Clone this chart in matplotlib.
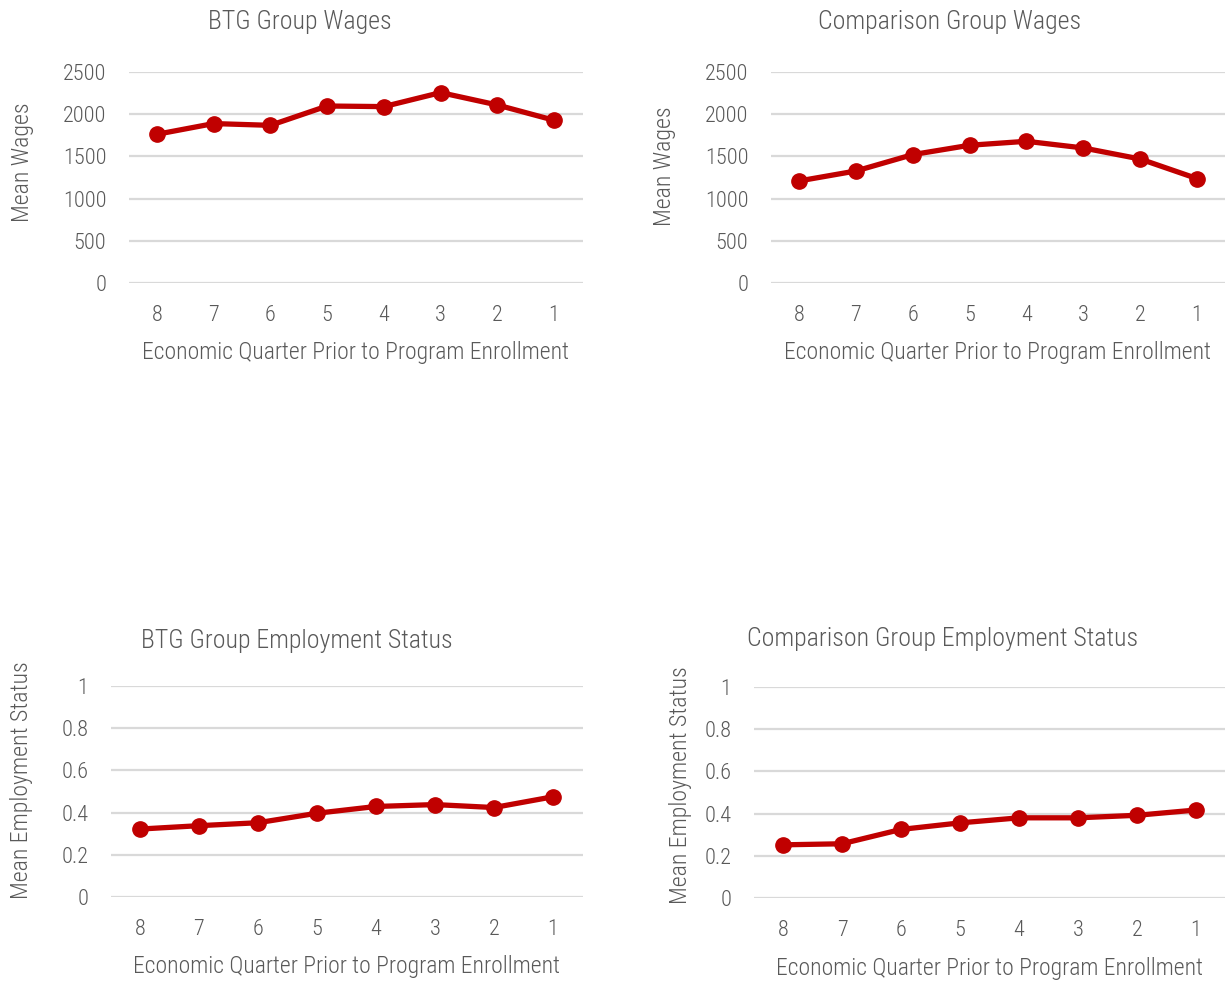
import matplotlib
matplotlib.use("Agg")
import matplotlib.pyplot as plt
from matplotlib import font_manager
from matplotlib.transforms import blended_transform_factory

# quarters before enrollment, oldest first
quarters = ["8", "7", "6", "5", "4", "3", "2", "1"]

btg_wages = [1762, 1889, 1868, 2097, 2090, 2256, 2109, 1928]
comp_wages = [1209, 1327, 1521, 1632, 1679, 1600, 1469, 1237]
btg_employ = [0.322, 0.338, 0.352, 0.397, 0.429, 0.438, 0.424, 0.475]
comp_employ = [0.252, 0.257, 0.325, 0.356, 0.380, 0.380, 0.392, 0.417]

wage_ticks = [0, 500, 1000, 1500, 2000, 2500]
employ_ticks = [0, 0.2, 0.4, 0.6, 0.8, 1]
employ_tick_labels = ["0", "0.2", "0.4", "0.6", "0.8", "1"]

# pick a narrow face if one is around
fonts = font_manager.fontManager.ttflist
names = {f.name for f in fonts}
narrow = None
for cand in ["Liberation Sans Narrow", "Roboto Condensed", "Noto Sans Condensed",
             "Open Sans Condensed", "DejaVu Sans Condensed"]:
    if cand in names:
        narrow = cand
        break
stretch = "normal"
if narrow is None:
    for fam in ["Roboto", "Noto Sans", "Open Sans", "DejaVu Sans"]:
        if any(f.name == fam and "condensed" in str(f.stretch) for f in fonts):
            narrow = fam
            stretch = "condensed"
            break
if narrow is None:
    narrow = "Roboto" if "Roboto" in names else "DejaVu Sans"
plt.rcParams["font.family"] = [narrow, "DejaVu Sans"]
plt.rcParams["font.stretch"] = stretch
plt.rcParams["font.weight"] = "light"
plt.rcParams["axes.labelweight"] = "light"

TXT = "#595959"
RED = "#C00000"
GRID = "#D9D9D9"
W, H = 1225, 984

fig = plt.figure(figsize=(W / 100, H / 100), dpi=100)


def px_axes(x0, x1, y0, y1):
    return fig.add_axes([x0 / W, 1 - y1 / H, (x1 - x0) / W, (y1 - y0) / H])


def panel(ax, vals, ticks, ticklabels, ylabel, ylab_xy, title, title_xy):
    ax.plot(range(len(vals)), vals, color=RED, lw=3.8, marker="o",
            markersize=11, zorder=3, solid_capstyle="round")
    ax.set_xlim(-0.5, len(vals) - 0.5)
    ax.set_ylim(ticks[0], ticks[-1])
    ax.set_yticks(ticks)
    ax.set_yticklabels(ticklabels)
    ax.set_xticks(range(len(quarters)))
    ax.set_xticklabels(quarters)
    ax.grid(axis="y", color=GRID, lw=1.6)
    ax.set_axisbelow(True)
    for s in ax.spines.values():
        s.set_visible(False)
    ax.tick_params(length=0, labelsize=16, labelcolor=TXT)
    ax.tick_params(axis="y", pad=16)
    ax.tick_params(axis="x", pad=16)
    ax.set_xlabel("Economic Quarter Prior to Program Enrollment",
                  fontsize=17, color=TXT, labelpad=11)
    ax.set_ylabel(ylabel, fontsize=17.2, color=TXT, va="center")
    ax.yaxis.set_label_coords(ylab_xy[0] / W, 1 - ylab_xy[1] / H,
                              transform=fig.transFigure)
    fig.text(title_xy[0] / W, 1 - title_xy[1] / H, title, fontsize=18.6,
             color=TXT, ha="center", va="center")


ax1 = px_axes(128.5, 582.5, 72, 283)
panel(ax1, btg_wages, wage_ticks, [str(t) for t in wage_ticks],
      "Mean Wages", (22, 162), "BTG Group Wages", (300, 22))

ax2 = px_axes(770.5, 1225.5, 72, 283)
panel(ax2, comp_wages, wage_ticks, [str(t) for t in wage_ticks],
      "Mean Wages", (665, 166), "Comparison Group Wages", (950, 22))

ax3 = px_axes(110.5, 582.5, 686, 897)
panel(ax3, btg_employ, employ_ticks, employ_tick_labels,
      "Mean Employment Status", (22, 780), "BTG Group Employment Status", (297, 641))

ax4 = px_axes(753.5, 1225.5, 687, 898)
panel(ax4, comp_employ, employ_ticks, employ_tick_labels,
      "Mean Employment Status", (680, 785), "Comparison Group Employment Status", (943, 639))

fig.savefig("out.png", dpi=100, facecolor="white")
